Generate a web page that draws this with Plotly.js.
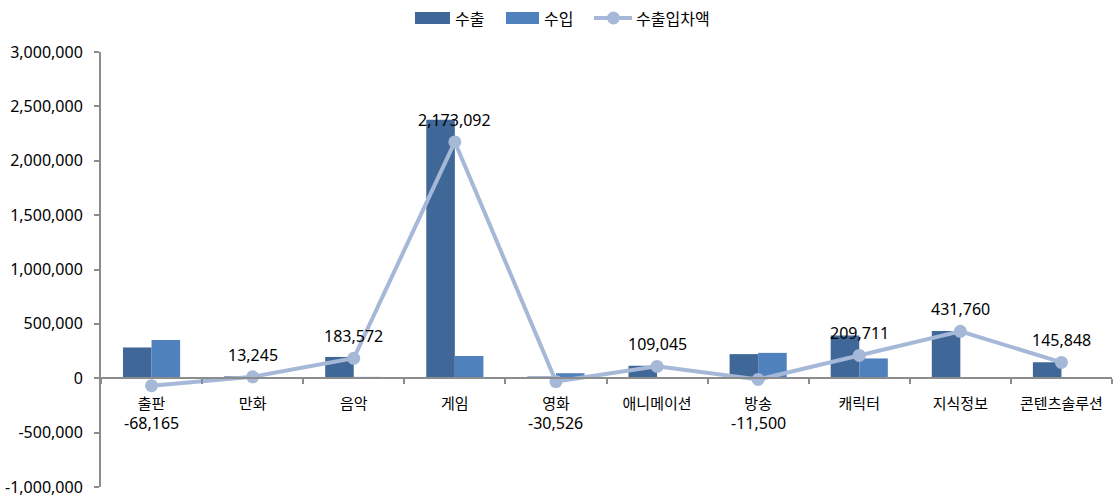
<!DOCTYPE html>
<html><head><meta charset="utf-8">
<script src="https://cdn.plot.ly/plotly-3.0.1.min.js"></script>
<style>html,body{margin:0;padding:0;background:#fff}#chart{width:1114px;height:499px}</style>
</head><body><div id="chart"></div>
<script>
const categories = ['출판','만화','음악','게임','영화','애니메이션','방송','캐릭터','지식정보','콘텐츠솔루션'];
const exports_ = [283000, 17000, 196000, 2378000, 15800, 115000, 222000, 392000, 434760, 147000];
const imports_ = [351165, 3755, 12428, 204908, 46326, 5955, 233500, 182289, 3000, 1152];
const balance = [-68165, 13245, 183572, 2173092, -30526, 109045, -11500, 209711, 431760, 145848];
const seriesNames = ['수출','수입','수출입차액'];
const yTickVals = [-1000000,-500000,0,500000,1000000,1500000,2000000,2500000,3000000];
const yTickText = ['-1,000,000','-500,000','0','500,000','1,000,000','1,500,000','2,000,000','2,500,000','3,000,000'];

const W = 1114, H = 499, M = {l:101, r:2, t:52, b:12};
const PW = W - M.l - M.r, PH = H - M.t - M.b;
const px = x => (x - M.l) / PW;
const py = y => 1 - (y - M.t) / PH;

const C_EXP = '#3F6898', C_IMP = '#4F81BD', C_BAL = '#A6B8D8';
const numFont = {family:'"Noto Sans", sans-serif', size:16, color:'#000'};
const korFont = {family:'"Noto Sans CJK KR", sans-serif', size:16, color:'#000'};
const fmt = v => (v<0?'-':'') + Math.abs(v).toString().replace(/\B(?=(\d{3})+(?!\d))/g, ',');

const traces = [
  {type:'bar', name:seriesNames[0], x:categories, y:exports_, marker:{color:C_EXP}},
  {type:'bar', name:seriesNames[1], x:categories, y:imports_, marker:{color:C_IMP}},
  {type:'scatter', mode:'lines+markers', name:seriesNames[2], x:categories, y:balance,
   line:{color:C_BAL, width:4}, marker:{color:C_BAL, size:13}}
];

const annotations = categories.map((c,i)=>({
  x:c, y: balance[i] >= 0 ? balance[i] : 0, xref:'x', yref:'y', text:fmt(balance[i]), showarrow:false,
  yshift: balance[i] >= 0 ? 22 : -45, font:numFont
}));

// custom legend (wide swatches like the original)
const legendY = 18;
const shapes = [
  {type:'rect', xref:'paper', yref:'paper', x0:px(415), x1:px(450), y0:py(24), y1:py(12), fillcolor:C_EXP, line:{width:0}},
  {type:'rect', xref:'paper', yref:'paper', x0:px(506), x1:px(539), y0:py(24), y1:py(12), fillcolor:C_IMP, line:{width:0}},
  {type:'line', xref:'paper', yref:'paper', x0:px(594), x1:px(632), y0:py(legendY), y1:py(legendY), line:{color:C_BAL, width:4}},
  {type:'circle', xref:'paper', yref:'paper', x0:px(607), x1:px(620), y0:py(legendY+6.5), y1:py(legendY-6.5), fillcolor:C_BAL, line:{width:0}}
];
[[453, seriesNames[0]], [542, seriesNames[1]], [634, seriesNames[2]]].forEach(([x, t]) => {
  annotations.push({xref:'paper', yref:'paper', x:px(x), y:py(legendY), xanchor:'left', yanchor:'middle',
    text:t, showarrow:false, font:korFont});
});

const layout = {
  width:W, height:H,
  margin:M,
  paper_bgcolor:'#fff', plot_bgcolor:'#fff',
  barmode:'group', bargap:0.435, bargroupgap:0,
  showlegend:false,
  xaxis:{type:'category', range:[-0.5, 9.5], automargin:false, anchor:'free', position:0.25, showline:true,
    linecolor:'#8c8c8c', linewidth:2,
    ticks:'outside', tickson:'boundaries', ticklen:5, tickcolor:'#8c8c8c', tickwidth:2,
    ticklabelstandoff:12, showgrid:false, zeroline:false,
    tickfont:{family:'"Noto Sans CJK KR", sans-serif', size:15, color:'#000'}},
  yaxis:{range:[-1000000,3000000], automargin:false, tickvals:yTickVals, ticktext:yTickText, showline:true,
    linecolor:'#8c8c8c', linewidth:2, ticks:'outside', ticklen:5, tickcolor:'#8c8c8c', tickwidth:2,
    ticklabelstandoff:8, showgrid:false, zeroline:false, tickfont:numFont},
  shapes:shapes,
  annotations:annotations
};
Plotly.newPlot('chart', traces, layout, {displayModeBar:false, staticPlot:true});
</script></body></html>
